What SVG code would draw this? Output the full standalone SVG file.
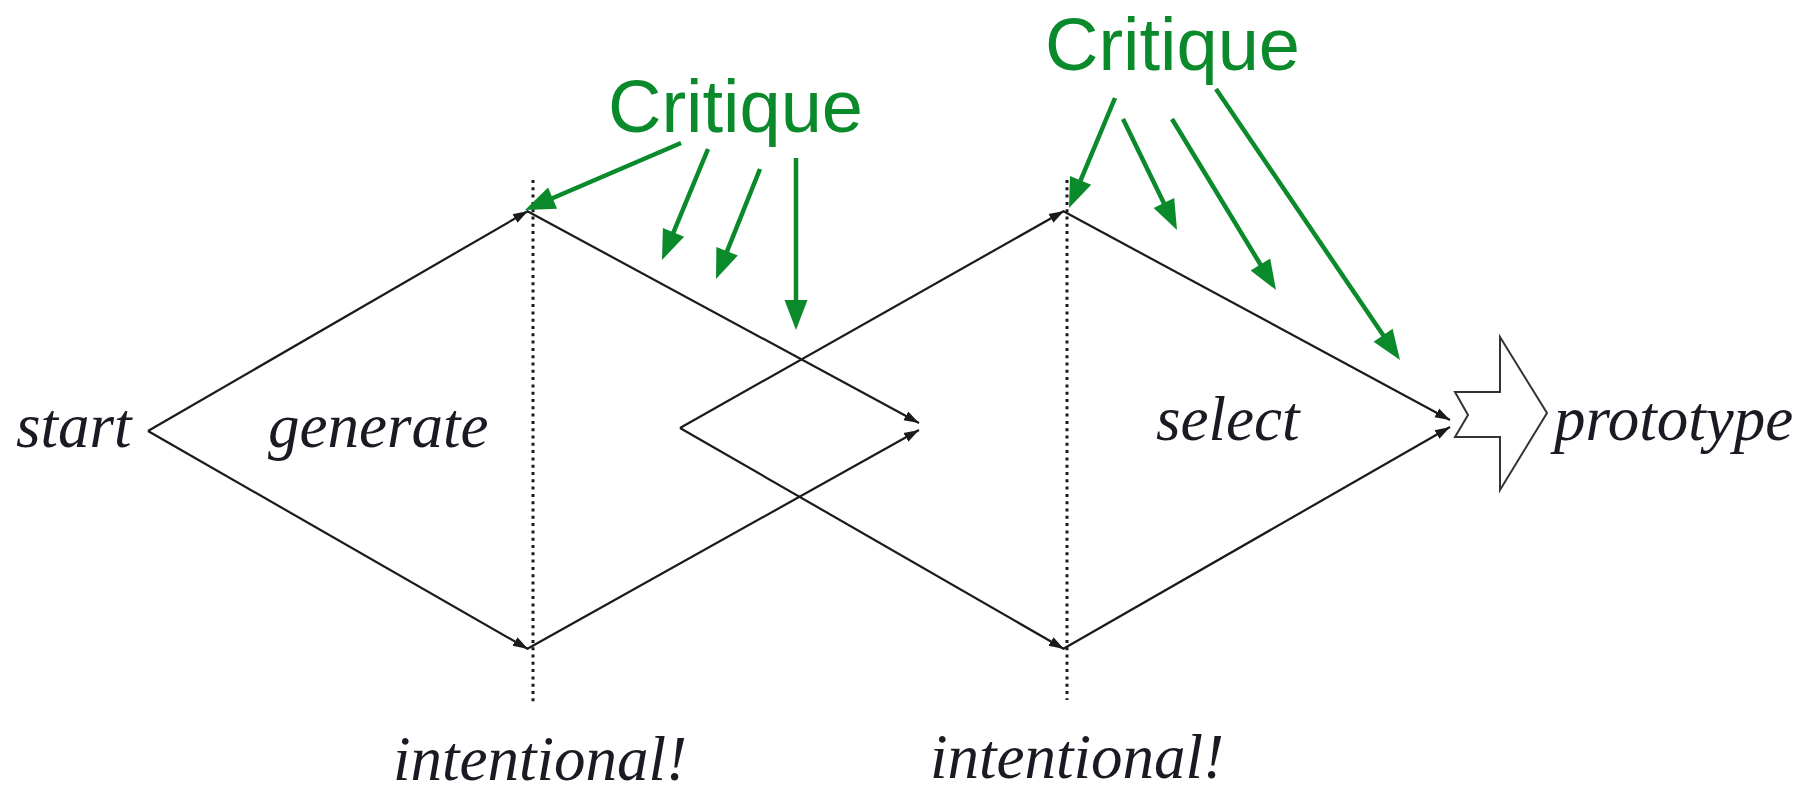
<svg xmlns="http://www.w3.org/2000/svg" width="1812" height="798" viewBox="0 0 1812 798">
<style>
.lbl{font-family:"Liberation Serif","Times New Roman",serif;font-style:italic;font-size:63px;fill:#1a1a22}
.crit{font-family:"Liberation Sans",Arial,sans-serif;font-size:74px;fill:#0b8a2c}
.flow{stroke:#1a1a1a;stroke-width:2.2;fill:none;marker-end:url(#blk)}
.dot{stroke:#1a1a1a;stroke-width:3;stroke-dasharray:3 4.3;fill:none}
.gl{stroke:#0b8a2c;stroke-width:4.5;fill:none}
.gh{fill:#0b8a2c}
</style>
<defs>
<marker id="blk" markerUnits="userSpaceOnUse" markerWidth="16" markerHeight="12" refX="15" refY="6" orient="auto">
<path d="M0,1 L15,6 L0,11 Z" fill="#1a1a1a"/>
</marker>
</defs>
<rect width="1812" height="798" fill="#ffffff"/>
<g id="guides">
<line class="dot" x1="533" y1="180" x2="533" y2="705"/>
<line class="dot" x1="1067" y1="180" x2="1067" y2="700"/>
</g>
<g id="connectors">
<line class="flow" x1="148" y1="431" x2="528" y2="211"/>
<line class="flow" x1="148" y1="431" x2="528" y2="649"/>
<line class="flow" x1="527" y1="211" x2="919" y2="423"/>
<line class="flow" x1="527" y1="649" x2="919" y2="430"/>
<line class="flow" x1="680" y1="428" x2="1064" y2="211"/>
<line class="flow" x1="680" y1="428" x2="1064" y2="649"/>
<line class="flow" x1="1063" y1="211" x2="1450" y2="420"/>
<line class="flow" x1="1063" y1="649" x2="1450" y2="427"/>
</g>
<g id="prototype-arrow">
<polygon points="1455,392 1500,392 1500,337 1547,413 1500,490 1500,437 1455,437 1468,415" fill="#ffffff" stroke="#333333" stroke-width="2"/>
</g>
<g id="labels">
<text class="lbl" x="16" y="447">start</text>
<text class="lbl" x="268" y="447">generate</text>
<text class="lbl" x="1156" y="440">select</text>
<text class="lbl" x="1554" y="440">prototype</text>
<text class="lbl" x="393" y="780">intentional!</text>
<text class="lbl" x="930" y="778">intentional!</text>
</g>
<g id="critique-1">
<text class="crit" x="608" y="132">Critique</text>
<line class="gl" x1="681" y1="143" x2="547.1" y2="200.5"/>
<polygon class="gh" points="525,210 557.1,208.8 548.1,187.6"/>
<line class="gl" x1="708" y1="149" x2="671.2" y2="237.8"/>
<polygon class="gh" points="662,260 684.1,236.7 662.9,227.9"/>
<line class="gl" x1="760" y1="169" x2="724.9" y2="256.7"/>
<polygon class="gh" points="716,279 737.8,255.5 716.4,246.9"/>
<line class="gl" x1="796" y1="158" x2="796" y2="306"/>
<polygon class="gh" points="796,330 784.5,300 807.5,300"/>
</g>
<g id="critique-2">
<text class="crit" x="1045" y="70">Critique</text>
<line class="gl" x1="1115" y1="98" x2="1078.3" y2="185.8"/>
<polygon class="gh" points="1069,208 1091.2,184.7 1070,175.9"/>
<line class="gl" x1="1123" y1="119" x2="1166.5" y2="208.4"/>
<polygon class="gh" points="1177,230 1174.2,198 1153.6,208"/>
<line class="gl" x1="1172" y1="119" x2="1263.5" y2="269.5"/>
<polygon class="gh" points="1276,290 1270.2,258.4 1250.6,270.4"/>
<line class="gl" x1="1216" y1="89" x2="1386.5" y2="340.1"/>
<polygon class="gh" points="1400,360 1392.6,328.7 1373.6,341.7"/>
</g>
</svg>
